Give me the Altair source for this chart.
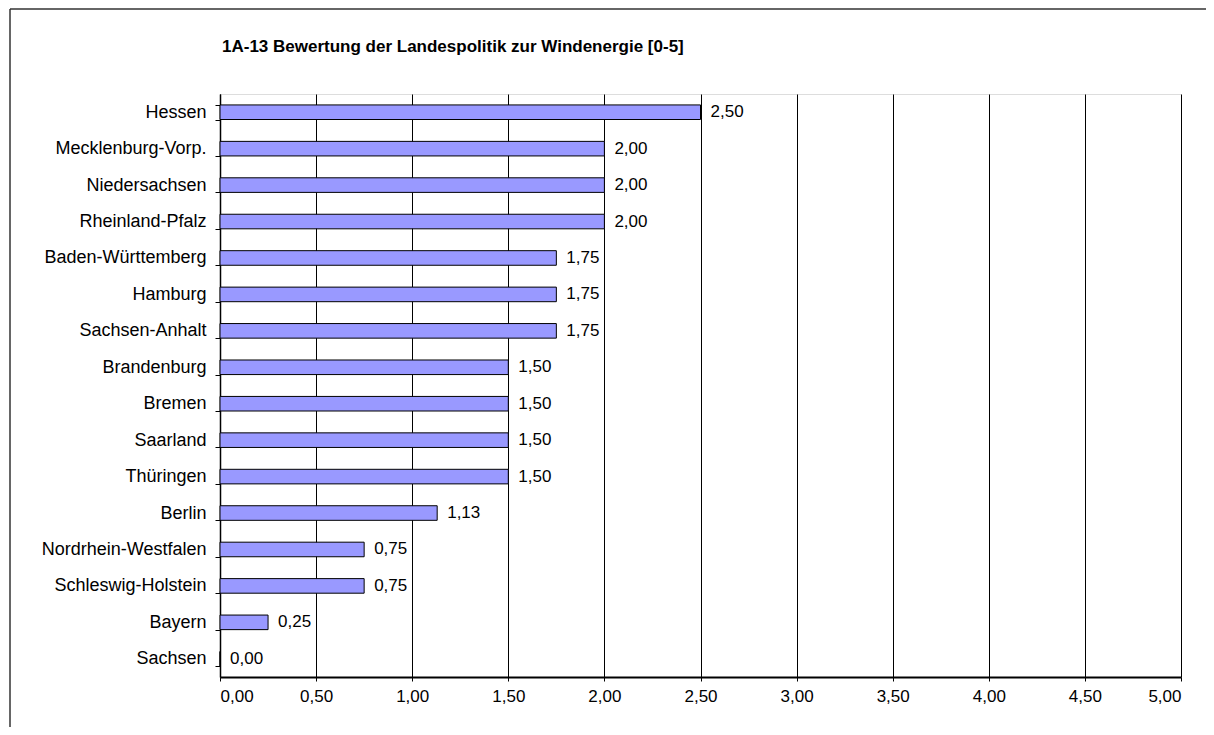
import altair as alt
import pandas as pd

states = ["Hessen", "Mecklenburg-Vorp.", "Niedersachsen", "Rheinland-Pfalz",
          "Baden-Württemberg", "Hamburg", "Sachsen-Anhalt", "Brandenburg",
          "Bremen", "Saarland", "Thüringen", "Berlin", "Nordrhein-Westfalen",
          "Schleswig-Holstein", "Bayern", "Sachsen"]
scores = [2.50, 2.00, 2.00, 2.00, 1.75, 1.75, 1.75, 1.50, 1.50, 1.50, 1.50,
          1.13, 0.75, 0.75, 0.25, 0.00]
x_ticks = [0, 0.5, 1, 1.5, 2, 2.5, 3, 3.5, 4, 4.5, 5]
title_text = "1A-13 Bewertung der Landespolitik zur Windenergie [0-5]"

df = pd.DataFrame({"Land": states, "Wert": scores})

FONT = "Liberation Sans"
FS = 17

y_enc = alt.Y("Land:N", sort=states, title=None,
              scale=alt.Scale(paddingInner=0.6, paddingOuter=0.3),
              axis=alt.Axis(tickBand="extent", labelFontSize=18, labelFont=FONT,
                            labelColor="black", labelPadding=9, tickSize=5,
                            tickColor="black", domainColor="black", domainWidth=1.5,
                            grid=False))
x_enc = alt.X("Wert:Q", title=None,
              scale=alt.Scale(domain=[0, 5], nice=False),
              axis=alt.Axis(values=x_ticks, labelFontSize=FS, labelFont=FONT,
                            labelColor="black", labelPadding=7, tickSize=4,
                            tickColor="black", domainColor="black", domainWidth=2,
                            gridColor="black", gridWidth=1, gridOpacity=1,
                            labelExpr="replace(format(datum.value, '.2f'), '.', ',')"))

bars = alt.Chart(df).mark_bar(color="#9999FF", stroke="black", strokeWidth=1).encode(
    x=x_enc, y=y_enc)

labels = alt.Chart(df).transform_calculate(
    txt="replace(format(datum.Wert, '.2f'), '.', ',')"
).mark_text(align="left", baseline="middle", dx=10, fontSize=FS, font=FONT,
            color="black").encode(
    x=alt.X("Wert:Q"), y=alt.Y("Land:N", sort=states), text="txt:N")

one = pd.DataFrame({"a": [0]})

frame_top = alt.Chart(one).mark_rule(
    stroke="#333333", strokeWidth=1.5, clip=False).encode(
    x=alt.value(-210), x2=alt.value(1100), y=alt.value(-85))
frame_left = alt.Chart(one).mark_rule(
    stroke="#333333", strokeWidth=1.5, clip=False).encode(
    x=alt.value(-210), y=alt.value(-85), y2=alt.value(800))

title = alt.Chart(one).mark_text(
    align="left", baseline="alphabetic", font=FONT, fontSize=17, fontWeight="bold",
    color="black", clip=False).encode(
    x=alt.value(2), y=alt.value(-42), text=alt.value(title_text))

chart = alt.layer(frame_top, frame_left, bars, labels, title).properties(
    width=961, height=583,
    padding={"left": 212, "top": 86, "right": 25, "bottom": 50},
    autosize=alt.AutoSizeParams(type="none"),
).configure_view(stroke="black", strokeWidth=1.5).configure(background="white")

chart.save("out.html", embed_options={"renderer": "svg", "actions": False})
